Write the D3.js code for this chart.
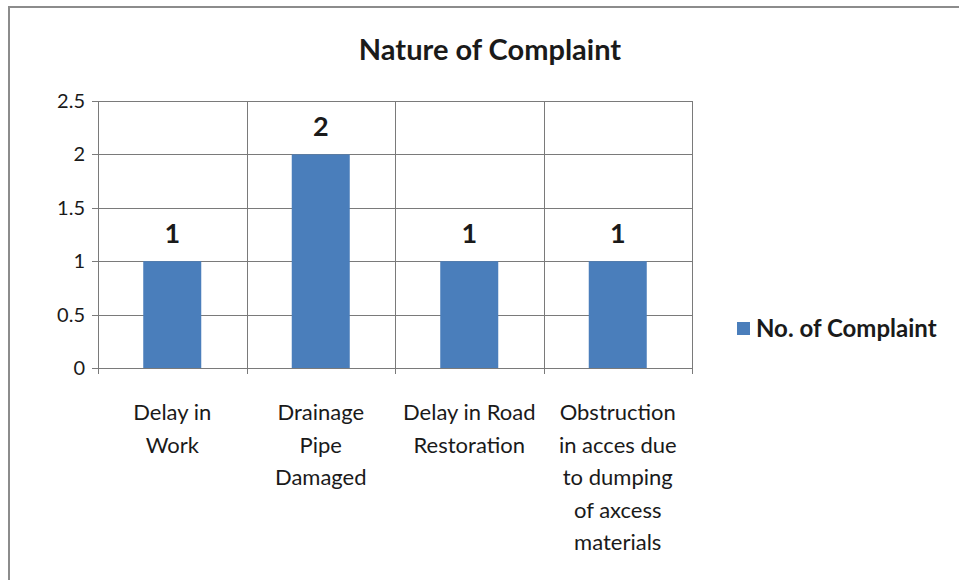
<!DOCTYPE html>
<html>
<head>
<meta charset="utf-8">
<script src="https://cdn.jsdelivr.net/npm/d3@7"></script>
<style>
  body { margin: 0; background: #fff; }
  text { font-family: Lato, "Open Sans", sans-serif; fill: #1a1a1a; }
</style>
</head>
<body>
<div id="chart"></div>
<script>
const categories = [
  ["Delay in", "Work"],
  ["Drainage", "Pipe", "Damaged"],
  ["Delay in Road", "Restoration"],
  ["Obstruction", "in acces due", "to dumping", "of axcess", "materials"]
];
const complaints = [1, 2, 1, 1];
const yTicks = [0, 0.5, 1, 1.5, 2, 2.5];
const seriesName = "No. of Complaint";
const chartTitle = "Nature of Complaint";

const width = 959, height = 580;
const plot = { left: 98, right: 692, top: 101, bottom: 368 };

const svg = d3.select("#chart").append("svg")
  .attr("width", width)
  .attr("height", height);

// outer frame
svg.append("path")
  .attr("d", `M9,${height} V7 H${width}`)
  .attr("fill", "none")
  .attr("stroke", "#8c8c8c")
  .attr("stroke-width", 2);

svg.append("text")
  .attr("x", 490).attr("y", 60)
  .attr("text-anchor", "middle")
  .attr("font-size", 29)
  .attr("font-weight", "bold")
  .text(chartTitle);

const x = d3.scaleBand()
  .domain(d3.range(categories.length))
  .range([plot.left, plot.right])
  .paddingInner(0).paddingOuter(0);

const y = d3.scaleLinear()
  .domain([0, 2.5])
  .range([plot.bottom, plot.top]);

// horizontal grid
svg.append("g")
  .selectAll("line")
  .data(yTicks)
  .enter().append("line")
  .attr("x1", plot.left - 6).attr("x2", plot.right)
  .attr("y1", d => Math.round(y(d)) + 0.5)
  .attr("y2", d => Math.round(y(d)) + 0.5)
  .attr("stroke", "#7a7a7a");

// vertical grid at category boundaries
const bounds = d3.range(categories.length + 1).map(i => i < categories.length ? x(i) : plot.right);
svg.append("g")
  .selectAll("line")
  .data(bounds)
  .enter().append("line")
  .attr("x1", d => Math.round(d) + 0.5).attr("x2", d => Math.round(d) + 0.5)
  .attr("y1", plot.top).attr("y2", plot.bottom + 6)
  .attr("stroke", "#7a7a7a");

// y tick labels
svg.append("g")
  .selectAll("text")
  .data(yTicks)
  .enter().append("text")
  .attr("x", 85)
  .attr("y", d => y(d))
  .attr("dy", "0.35em")
  .attr("text-anchor", "end")
  .attr("font-size", 20)
  .text(d => d);

const barW = 58;
svg.append("g")
  .selectAll("rect")
  .data(complaints)
  .enter().append("rect")
  .attr("x", (d, i) => x(i) + x.bandwidth() / 2 - barW / 2)
  .attr("y", d => y(d))
  .attr("width", barW)
  .attr("height", d => y(0) - y(d))
  .attr("fill", "#4a7ebb");

// value labels
svg.append("g")
  .selectAll("text")
  .data(complaints)
  .enter().append("text")
  .attr("x", (d, i) => x(i) + x.bandwidth() / 2)
  .attr("y", d => y(d) - 18)
  .attr("text-anchor", "middle")
  .attr("font-size", 27)
  .attr("font-weight", "bold")
  .text(d => d);

// category labels
const catLabels = svg.append("g")
  .selectAll("text")
  .data(categories)
  .enter().append("text")
  .attr("text-anchor", "middle")
  .attr("font-size", 22)
  .attr("transform", (d, i) => `translate(${x(i) + x.bandwidth() / 2},420)`);
catLabels.selectAll("tspan")
  .data(d => d)
  .enter().append("tspan")
  .attr("x", 0)
  .attr("y", (d, i) => i * 32.5)
  .text(d => d);

// legend
svg.append("rect")
  .attr("x", 737).attr("y", 322)
  .attr("width", 13).attr("height", 13)
  .attr("fill", "#4a7ebb");
svg.append("text")
  .attr("x", 756).attr("y", 329)
  .attr("dy", "0.35em")
  .attr("font-size", 24)
  .attr("font-weight", "bold")
  .text(seriesName);
</script>
</body>
</html>
